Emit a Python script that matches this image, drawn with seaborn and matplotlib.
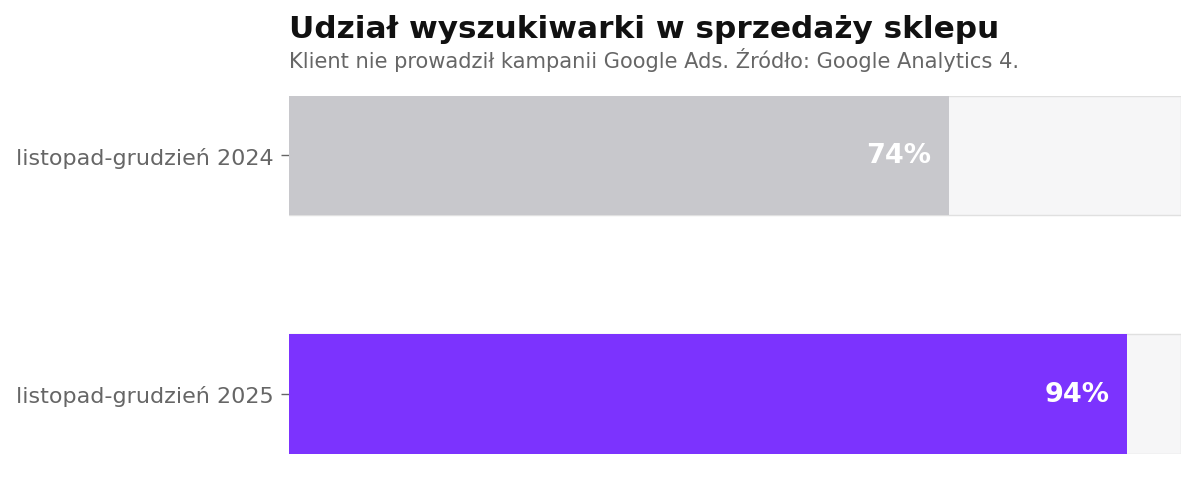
import matplotlib
matplotlib.use("Agg")
import matplotlib.pyplot as plt
import seaborn as sns
import pandas as pd

# Data
periods = ["listopad-grudzień 2024", "listopad-grudzień 2025"]
shares = [74, 94]
full = [100, 100]
bar_colors = ["#c8c8cc", "#7c33fe"]

sns.set_style("white")
plt.rcParams['font.family'] = ['DejaVu Sans']

df = pd.DataFrame({"okres": periods, "udzial": shares, "pelny": full})

fig = plt.figure(figsize=(11.98, 4.89), dpi=100)
ax = fig.add_axes([289 / 1198, 34.5 / 489, 892 / 1198, 358 / 489])

# background track bars
sns.barplot(data=df, x="pelny", y="okres", orient="h", color="#f6f6f7",
            saturation=1, edgecolor="#e0e0e0", linewidth=1, width=0.5, ax=ax)
# value bars
sns.barplot(data=df, x="udzial", y="okres", orient="h", hue="okres",
            palette=bar_colors, saturation=1, legend=False, width=0.5,
            linewidth=0, ax=ax)

for i, v in enumerate(shares):
    ax.text(v - 2, i, f"{v}%", ha="right", va="center", color="white",
            fontsize=19.5, fontweight="bold")

ax.set_xlim(0, 100)
ax.set_ylim(1.25, -0.25)
ax.set_xlabel("")
ax.set_ylabel("")
ax.set_xticks([])
sns.despine(ax=ax, left=True, bottom=True)
ax.tick_params(axis="y", length=6, width=1, color="#666666", labelcolor="#666666",
               labelsize=16, left=True, pad=5)

fig.text(289 / 1198, 1 - 29 / 489, "Udział wyszukiwarki w sprzedaży sklepu",
         fontsize=22.4, fontweight="bold", color="#111111", va="center")
fig.text(289 / 1198, 1 - 60 / 489,
         "Klient nie prowadził kampanii Google Ads. Źródło: Google Analytics 4.",
         fontsize=15.15, color="#666666", va="center")

fig.savefig("out.png", dpi=100)
